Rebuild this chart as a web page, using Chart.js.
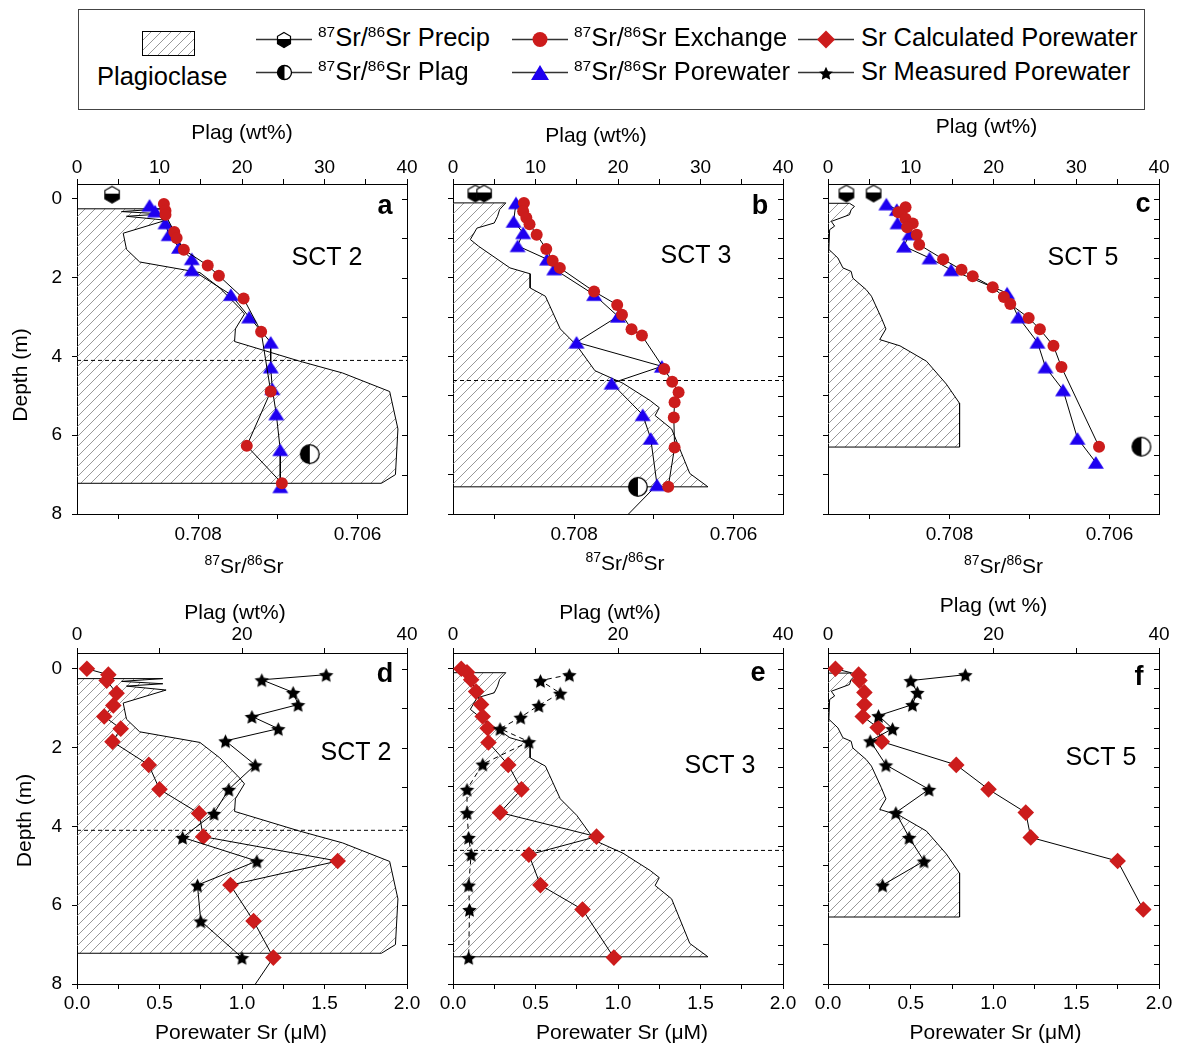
<!DOCTYPE html>
<html>
<head>
<meta charset="utf-8">
<title>Sr isotope profiles, SCT 2 / 3 / 5</title>
<script src="https://cdn.jsdelivr.net/npm/chart.js@4.4.1/dist/chart.umd.min.js"></script>
<style>
  html, body { margin: 0; padding: 0; background: #fff; }
  body { position: relative; width: 1177px; height: 1045px; overflow: hidden; font-family: "Liberation Sans", Arial, sans-serif; }
  #legendBox { position: absolute; left: 78px; top: 9px; width: 1067px; height: 101px; border: 1.5px solid #444; box-sizing: border-box; }
  .sym { position: absolute; }
  .lt { position: absolute; font-size: 25.5px; line-height: 25.5px; white-space: nowrap; color: #000; }
  .lt sup { font-size: 15.5px; vertical-align: baseline; position: relative; top: -9px; }
  canvas.panel { position: absolute; }
</style>
</head>
<body>
<div id="legendBox"></div>
<canvas class="sym" id="symPlag" width="53" height="25" style="left:142px;top:31px"></canvas>
<div class="lt" style="left:97px;top:64px">Plagioclase</div>
<canvas class="sym" id="symPrecip" width="56" height="22" style="left:256px;top:28px"></canvas>
<div class="lt" style="left:318px;top:25px"><sup>87</sup>Sr/<sup>86</sup>Sr Precip</div>
<canvas class="sym" id="symPlagSr" width="56" height="22" style="left:256px;top:61px"></canvas>
<div class="lt" style="left:318px;top:59px"><sup>87</sup>Sr/<sup>86</sup>Sr Plag</div>
<canvas class="sym" id="symExch" width="56" height="22" style="left:512px;top:28px"></canvas>
<div class="lt" style="left:574px;top:25px"><sup>87</sup>Sr/<sup>86</sup>Sr Exchange</div>
<canvas class="sym" id="symPore" width="56" height="22" style="left:512px;top:61px"></canvas>
<div class="lt" style="left:574px;top:59px"><sup>87</sup>Sr/<sup>86</sup>Sr Porewater</div>
<canvas class="sym" id="symCalc" width="56" height="22" style="left:798px;top:28px"></canvas>
<div class="lt" style="left:861px;top:25px">Sr Calculated Porewater</div>
<canvas class="sym" id="symMeas" width="56" height="22" style="left:798px;top:61px"></canvas>
<div class="lt" style="left:861px;top:59px">Sr Measured Porewater</div>

<script>
const RED = '#cc1c1c';
const BLUE = '#1e00f0';
const FONT = "'Liberation Sans', Arial, sans-serif";

// ---- ticks ----
const srTicks = [0.709, 0.708, 0.707, 0.706];
const srTickLabels = [0.708, 0.706];
const plagTicksTop = [0, 5, 10, 15, 20, 25, 30, 35, 40];
const plagLabelsTop = [0, 10, 20, 30, 40];
const plagTicksBottom = [0, 10, 20, 30, 40];
const plagLabelsBottom = [0, 20, 40];
const poreTicks = [0, 0.25, 0.5, 0.75, 1, 1.25, 1.5, 1.75, 2];
const poreLabels = [0, 0.5, 1, 1.5, 2];
const depthTicks = [0, 1, 2, 3, 4, 5, 6, 7, 8];
const depthLabels = [0, 2, 4, 6, 8];
const innerWhole = [0, 1, 2, 3, 4, 5, 6, 7, 8];
const innerHalf = [0, 0.5, 1, 1.5, 2, 2.5, 3, 3.5, 4, 4.5, 5, 5.5, 6, 6.5, 7, 7.5, 8];

// ---- plagioclase profiles (wt%, depth m) ----
const sct2PlagWt    = [0, 10.4, 5.4, 10.4, 6.0, 10.8, 5.6, 6.0, 7.6, 14.9, 17.3, 19.7, 20.3, 19.2, 19.1, 27.0, 32.2, 37.9, 38.9, 38.6, 36.9, 0];
const sct2PlagDepth = [0.25, 0.25, 0.32, 0.38, 0.44, 0.54, 0.87, 1.28, 1.6, 1.87, 2.26, 2.77, 2.92, 3.3, 3.62, 4.12, 4.42, 4.89, 5.84, 7.0, 7.22, 7.22];
const sct3PlagWt    = [0, 6.4, 5.65, 5.4, 5.0, 2.9, 2.1, 3.1, 6.9, 9.35, 9.35, 11.2, 13.0, 15.0, 17.2, 20.6, 23.9, 25.0, 24.5, 26.5, 28.7, 30.9, 0];
const sct3PlagDepth = [0.1, 0.1, 0.27, 0.44, 0.61, 0.74, 1.03, 1.2, 1.75, 1.9, 2.26, 2.47, 3.3, 3.72, 4.36, 4.68, 5.12, 5.3, 5.5, 5.84, 6.97, 7.31, 7.31];
const sct5PlagWt    = [0, 2.6, 3.2, 2.8, 2.6, 0.4, 0.8, 0.2, 0.1, 1.2, 1.8, 2.8, 3.0, 4.6, 5.25, 6.45, 7.0, 6.25, 8.7, 11.9, 14.3, 15.9, 15.9, 0];
const sct5PlagDepth = [0.11, 0.11, 0.19, 0.27, 0.4, 0.57, 0.69, 0.78, 1.28, 1.5, 1.75, 1.84, 2.01, 2.3, 2.47, 3.02, 3.3, 3.57, 3.73, 4.12, 4.7, 5.19, 6.3, 6.3];

// depth of the dashed horizon
const sct2Horizon = [4.1];
const sct3Horizon = [4.61];

// ---- 87Sr/86Sr, exchange ----
const sct2ExchDepth = [0.13, 0.3, 0.4, 0.84, 0.99, 1.29, 1.69, 1.95, 2.53, 3.37, 4.89, 6.27, 7.22];
const sct2ExchRatio = [0.70843, 0.70841, 0.70841, 0.7083, 0.70827, 0.70818, 0.70788, 0.70774, 0.70743, 0.70721, 0.70709, 0.70739, 0.70695];
const sct3ExchDepth = [0.1, 0.31, 0.48, 0.64, 0.91, 1.27, 1.57, 1.75, 2.35, 2.69, 2.94, 3.31, 3.47, 4.32, 4.64, 4.91, 5.16, 5.55, 6.31, 7.31];
const sct3ExchRatio = [0.70863, 0.70864, 0.7086, 0.70856, 0.70847, 0.70835, 0.70827, 0.70818, 0.70775, 0.70746, 0.7074, 0.70728, 0.70715, 0.70687, 0.70677, 0.70669, 0.70674, 0.70675, 0.70674, 0.70682];
const sct5ExchDepth = [0.21, 0.34, 0.5, 0.62, 0.72, 0.91, 1.16, 1.53, 1.8, 1.96, 2.24, 2.49, 2.67, 3.02, 3.31, 3.73, 4.27, 6.29];
const sct5ExchRatio = [0.70855, 0.70864, 0.70855, 0.70846, 0.70853, 0.70841, 0.70838, 0.70808, 0.70785, 0.70771, 0.70746, 0.70732, 0.70724, 0.70701, 0.70687, 0.7067, 0.7066, 0.70613];

// ---- 87Sr/86Sr, porewater ----
const sct2PoreDepth = [0.16, 0.31, 0.61, 0.91, 1.23, 1.52, 1.8, 2.43, 3.0, 3.64, 4.27, 4.82, 5.46, 6.37, 7.31];
const sct2PoreRatio = [0.70861, 0.70854, 0.70841, 0.70837, 0.70824, 0.70808, 0.70808, 0.70759, 0.70736, 0.70709, 0.70709, 0.70707, 0.70702, 0.70697, 0.70697];
const sct3PoreDepth = [0.1, 0.57, 0.86, 1.19, 1.53, 1.78, 2.43, 2.98, 3.64, 4.25, 4.68, 5.48, 6.08, 7.26, 8.5];
const sct3PoreRatio = [0.70873, 0.70876, 0.70864, 0.70871, 0.70834, 0.70825, 0.70775, 0.70745, 0.70797, 0.7069, 0.70753, 0.70714, 0.70704, 0.70696, 0.70756];
const sct5PoreDepth = [0.13, 0.27, 0.61, 0.89, 1.2, 1.5, 1.8, 2.39, 3.0, 3.64, 4.27, 4.85, 6.08, 6.69];
const sct5PoreRatio = [0.70879, 0.70866, 0.70865, 0.7085, 0.70857, 0.70825, 0.70798, 0.70728, 0.70714, 0.7069, 0.7068, 0.70658, 0.7064, 0.70617];

// ---- end members ----
const sct2PrecipRatio = [0.70908];           const sct2PrecipDepth = [-0.11];
const sct3PrecipRatio = [0.70924, 0.70913];  const sct3PrecipDepth = [-0.14, -0.14];
const sct5PrecipRatio = [0.70929, 0.70895];  const sct5PrecipDepth = [-0.14, -0.14];
const sct2PlagRatio = [0.7066];  const sct2PlagRatioDepth = [6.48];
const sct3PlagRatio = [0.7072];  const sct3PlagRatioDepth = [7.31];
const sct5PlagRatio = [0.7056];  const sct5PlagRatioDepth = [6.29];

// ---- porewater Sr (uM) ----
const sct2CalcDepth = [0.0, 0.15, 0.3, 0.62, 0.93, 1.21, 1.52, 1.85, 2.44, 3.06, 3.67, 4.26, 4.88, 5.49, 6.4, 7.33, 8.5];
const sct2CalcSr    = [0.06, 0.19, 0.18, 0.24, 0.22, 0.165, 0.265, 0.215, 0.435, 0.5, 0.74, 0.765, 1.58, 0.93, 1.07, 1.19, 1.0];
const sct2MeasDepth = [0.15, 0.28, 0.6, 0.91, 1.21, 1.52, 1.83, 2.44, 3.06, 3.67, 4.28, 4.88, 5.49, 6.4, 7.33];
const sct2MeasSr    = [1.51, 1.12, 1.31, 1.34, 1.06, 1.22, 0.9, 1.08, 0.92, 0.83, 0.64, 1.09, 0.73, 0.75, 1.0];
const sct3CalcDepth = [0.0, 0.09, 0.28, 0.58, 0.91, 1.21, 1.51, 1.87, 2.44, 3.06, 3.65, 4.26, 4.72, 5.49, 6.11, 7.33];
const sct3CalcSr    = [0.05, 0.085, 0.11, 0.14, 0.17, 0.18, 0.21, 0.215, 0.335, 0.415, 0.285, 0.87, 0.46, 0.53, 0.785, 0.975];
const sct3MeasDepth = [0.15, 0.3, 0.62, 0.93, 1.23, 1.52, 1.85, 2.42, 3.06, 3.65, 4.28, 4.71, 5.49, 6.11, 7.33];
const sct3MeasSr    = [0.705, 0.53, 0.65, 0.52, 0.41, 0.285, 0.46, 0.18, 0.085, 0.085, 0.095, 0.11, 0.095, 0.1, 0.095];
const sct5CalcDepth = [0.0, 0.15, 0.3, 0.6, 0.91, 1.21, 1.49, 1.85, 2.44, 3.06, 3.65, 4.28, 4.88, 6.11];
const sct5CalcSr    = [0.045, 0.185, 0.19, 0.22, 0.22, 0.21, 0.3, 0.325, 0.775, 0.97, 1.195, 1.225, 1.75, 1.905];
const sct5MeasDepth = [0.15, 0.3, 0.6, 0.91, 1.19, 1.52, 1.83, 2.44, 3.06, 3.65, 4.28, 4.88, 5.49];
const sct5MeasSr    = [0.83, 0.5, 0.54, 0.51, 0.305, 0.39, 0.255, 0.35, 0.61, 0.41, 0.49, 0.58, 0.33];

// ---------- marker glyphs ----------
function mk(w, h, draw) {
  const c = document.createElement('canvas');
  c.width = w; c.height = h;
  draw(c.getContext('2d'), w / 2, h / 2);
  return c;
}
function hexMarker(r) {
  const s = Math.ceil(2 * r + 3);
  return mk(s, s, (g, cx, cy) => {
    const path = () => {
      g.beginPath();
      for (let k = 0; k < 6; k++) {
        const a = -Math.PI / 2 + k * Math.PI / 3;
        const x = cx + r * Math.cos(a), y = cy + r * Math.sin(a);
        if (k) g.lineTo(x, y); else g.moveTo(x, y);
      }
      g.closePath();
    };
    path(); g.fillStyle = '#fff'; g.fill();
    g.save(); path(); g.clip(); g.fillStyle = '#000'; g.fillRect(0, cy - 1, s, s); g.restore();
    path(); g.strokeStyle = '#000'; g.lineWidth = 1.2; g.stroke();
  });
}
function halfCircle(r) {
  const s = Math.ceil(2 * r + 3);
  return mk(s, s, (g, cx, cy) => {
    g.beginPath(); g.arc(cx, cy, r, 0, Math.PI * 2); g.fillStyle = '#fff'; g.fill();
    g.beginPath(); g.arc(cx, cy, r, Math.PI / 2, Math.PI * 1.5); g.closePath(); g.fillStyle = '#000'; g.fill();
    g.beginPath(); g.arc(cx, cy, r, 0, Math.PI * 2); g.strokeStyle = '#000'; g.lineWidth = 1.3; g.stroke();
  });
}
function starMarker(R) {
  const s = Math.ceil(2 * R + 3);
  return mk(s, s, (g, cx, cy) => {
    g.beginPath();
    for (let k = 0; k < 10; k++) {
      const rr = k % 2 ? R * 0.48 : R;
      const a = -Math.PI / 2 + k * Math.PI / 5;
      const x = cx + rr * Math.cos(a), y = cy + 1 + rr * Math.sin(a);
      if (k) g.lineTo(x, y); else g.moveTo(x, y);
    }
    g.closePath(); g.fillStyle = '#000'; g.fill();
  });
}
function triMarker(w, h) {
  return mk(Math.ceil(w + 2), Math.ceil(h + 2), (g, cx, cy) => {
    g.beginPath();
    g.moveTo(cx, cy - h / 2); g.lineTo(cx + w / 2, cy + h / 2); g.lineTo(cx - w / 2, cy + h / 2);
    g.closePath(); g.fillStyle = BLUE; g.fill();
  });
}
function hatchPattern() {
  const c = document.createElement('canvas');
  c.width = 10; c.height = 10;
  const g = c.getContext('2d');
  g.strokeStyle = '#8c8c8c'; g.lineWidth = 0.9;
  g.beginPath();
  g.moveTo(0, 10); g.lineTo(10, 0);
  g.moveTo(-1, 1); g.lineTo(1, -1);
  g.moveTo(9, 11); g.lineTo(11, 9);
  g.stroke();
  return g.createPattern(c, 'repeat');
}

const precipImg = hexMarker(8.3);
const plagImg = halfCircle(9.3);
const starImg = starMarker(7.6);
const triImg = triMarker(16, 12.5);
const hatch = hatchPattern();

// ---------- legend symbols ----------
(function legend() {
  const hp = document.getElementById('symPlag').getContext('2d');
  hp.fillStyle = hatch; hp.fillRect(0, 0, 53, 25);
  hp.strokeStyle = '#000'; hp.lineWidth = 1; hp.strokeRect(0.5, 0.5, 52, 24);
  function lineSym(id, drawMarker) {
    const cv = document.getElementById(id), g = cv.getContext('2d');
    g.strokeStyle = '#333'; g.lineWidth = 1.3;
    g.beginPath(); g.moveTo(0, 11.5); g.lineTo(cv.width, 11.5); g.stroke();
    drawMarker(g, cv.width / 2, 11.5);
  }
  const img = im => (g, x, y) => g.drawImage(im, Math.round(x - im.width / 2), Math.round(y - im.height / 2));
  lineSym('symPrecip', img(hexMarker(7.5)));
  lineSym('symPlagSr', img(halfCircle(7)));
  lineSym('symExch', (g, x, y) => { g.beginPath(); g.arc(x, y, 7.5, 0, Math.PI * 2); g.fillStyle = RED; g.fill(); });
  lineSym('symPore', img(triMarker(18, 15)));
  lineSym('symCalc', (g, x, y) => {
    g.beginPath(); g.moveTo(x, y - 9); g.lineTo(x + 9, y); g.lineTo(x, y + 9); g.lineTo(x - 9, y);
    g.closePath(); g.fillStyle = RED; g.fill();
  });
  lineSym('symMeas', img(starMarker(7.2)));
})();

// ---------- plugins ----------
const innerTicks = {
  id: 'innerTicks',
  afterDraw(chart, args, o) {
    const { ctx, chartArea: a } = chart;
    const y = chart.scales.y;
    ctx.save();
    ctx.strokeStyle = '#000'; ctx.lineWidth = 1;
    ctx.beginPath();
    o.values.forEach(v => {
      const py = Math.round(y.getPixelForValue(v)) + 0.5;
      ctx.moveTo(a.right, py); ctx.lineTo(a.right - 5, py);
    });
    ctx.stroke();
    ctx.restore();
  }
};

function drawSrTitle(ctx, cx, baseY) {
  const big = '21px ' + FONT, small = '14px ' + FONT;
  const parts = [['87', small, -8], ['Sr/', big, 0], ['86', small, -8], ['Sr', big, 0]];
  let total = 0;
  parts.forEach(p => { ctx.font = p[1]; total += ctx.measureText(p[0]).width; });
  let x = cx - total / 2;
  ctx.textAlign = 'left'; ctx.textBaseline = 'alphabetic';
  parts.forEach(p => { ctx.font = p[1]; ctx.fillText(p[0], x, baseY + p[2]); x += ctx.measureText(p[0]).width; });
}

const panelText = {
  id: 'panelText',
  afterDraw(chart, args, o) {
    const { ctx, chartArea: a } = chart;
    const cx = (a.left + a.right) / 2, cy = (a.top + a.bottom) / 2;
    ctx.save();
    ctx.fillStyle = '#000';
    ctx.textAlign = 'center'; ctx.textBaseline = 'alphabetic';
    ctx.font = 'bold 27px ' + FONT;
    ctx.fillText(o.letter[0], a.right - o.letter[1], a.top + o.letter[2]);
    ctx.font = '25px ' + FONT;
    ctx.fillText(o.core[0], a.left + o.core[1], a.top + o.core[2]);
    ctx.textBaseline = 'middle';
    ctx.font = '21px ' + FONT;
    ctx.fillText(o.plag[0], cx + o.plag[1], a.top - o.plag[2]);
    if (o.bottom[0] === 'sr') {
      drawSrTitle(ctx, cx + o.bottom[1], a.bottom + o.bottom[2]);
    } else {
      ctx.textAlign = 'center'; ctx.textBaseline = 'middle'; ctx.font = '21px ' + FONT;
      ctx.fillText(o.bottom[0], cx + o.bottom[1], a.bottom + o.bottom[2]);
    }
    if (o.depth) {
      ctx.translate(a.left - o.depth[0], cy + o.depth[1]);
      ctx.rotate(-Math.PI / 2);
      ctx.textAlign = 'center'; ctx.textBaseline = 'middle'; ctx.font = '21px ' + FONT;
      ctx.fillText('Depth (m)', 0, 0);
    }
    ctx.restore();
  }
};

// ---------- helpers ----------
function pts(xs, ys) { return xs.map((x, i) => ({ x: x, y: ys[i] })); }
const has = (list, v) => list.some(t => Math.abs(t - v) < 1e-9);

function axis(pos, min, max, reverse, tickVals, tickLabs, fmt, pad, size) {
  const horiz = pos === 'top' || pos === 'bottom';
  return {
    type: 'linear', position: pos, min: min, max: max, reverse: reverse,
    afterBuildTicks: s => { s.ticks = tickVals.map(v => ({ value: v })); },
    afterFit: s => { if (horiz) s.height = size; else s.width = size; },
    ticks: {
      autoSkip: false, maxRotation: 0, minRotation: 0, padding: pad, color: '#000',
      font: { family: FONT, size: 19 },
      callback: v => has(tickLabs, v) ? fmt(v) : ''
    },
    grid: { display: true, drawOnChartArea: false, drawTicks: true, tickLength: 5, color: '#000', lineWidth: 1 },
    border: { display: true, color: '#000', width: 1 },
    title: { display: false }
  };
}

function lineSet(data, extra) {
  return Object.assign({
    data: data, xAxisID: 'x', yAxisID: 'y', showLine: true,
    borderColor: '#000', borderWidth: 1, tension: 0
  }, extra);
}

function profileSets(p) {
  const out = [];
  if (p.horizon) {
    out.push(lineSet(pts([0, 40], [p.horizon[0], p.horizon[0]]), {
      xAxisID: 'x2', borderDash: [4, 3], pointRadius: 0
    }));
  }
  out.push(lineSet(pts(p.plagWt, p.plagDepth), {
    xAxisID: 'x2', pointRadius: 0, fill: 'shape', backgroundColor: hatch
  }));
  return out;
}

function buildPanel(p) {
  const TOPH = 80, BOTH = 75, RIGHTW = 25;
  const w = p.leftW + (p.R - p.L) + RIGHTW;
  const h = TOPH + (p.B - p.T) + BOTH;
  const c = document.createElement('canvas');
  c.className = 'panel';
  c.width = w; c.height = h;
  c.style.left = (p.L - p.leftW) + 'px';
  c.style.top = (p.T - TOPH) + 'px';
  c.style.width = w + 'px'; c.style.height = h + 'px';
  document.body.appendChild(c);

  let datasets, xAxis, x2Axis;
  if (p.kind === 'ratio') {
    datasets = [
      lineSet(pts(p.precipRatio, p.precipDepth), { showLine: false, pointStyle: precipImg, pointRadius: 8 }),
      lineSet(pts(p.plagRatio, p.plagRatioDepth), { showLine: false, pointStyle: plagImg, pointRadius: 9 }),
      lineSet(pts(p.exchRatio, p.exchDepth), {
        pointStyle: 'circle', pointRadius: 6, pointBackgroundColor: RED, pointBorderColor: RED, pointBorderWidth: 0
      }),
      lineSet(pts(p.poreRatio, p.poreDepth), { pointStyle: triImg, pointRadius: 7 })
    ].concat(profileSets(p));
    xAxis = axis('bottom', 0.70538, 0.70952, true, srTicks, srTickLabels, v => v.toFixed(3), 4, BOTH);
    x2Axis = axis('top', 0, 40, false, plagTicksTop, plagLabelsTop, v => String(v), 0, TOPH);
  } else {
    datasets = [
      lineSet(pts(p.measSr, p.measDepth), { pointStyle: starImg, pointRadius: 6, borderDash: p.measDash || [] }),
      lineSet(pts(p.calcSr, p.calcDepth), {
        pointStyle: 'rectRot', pointRadius: 8.3, pointBackgroundColor: RED, pointBorderColor: RED, pointBorderWidth: 0
      })
    ].concat(profileSets(p));
    xAxis = axis('bottom', 0, 2, false, poreTicks, poreLabels, v => v.toFixed(1), 3, BOTH);
    x2Axis = axis('top', 0, 40, false, plagTicksBottom, plagLabelsBottom, v => String(v), 2, TOPH);
  }
  const yAxis = p.leftLabels
    ? axis('left', p.yMin, 8, true, depthLabels, depthLabels, v => String(v), 10, p.leftW)
    : axis('left', p.yMin, 8, true, depthTicks, [], v => '', 3, p.leftW);

  return new Chart(c, {
    type: 'scatter',
    data: { datasets: datasets },
    options: {
      responsive: false,
      animation: false,
      events: [],
      layout: { padding: 0 },
      scales: {
        x: xAxis,
        x2: x2Axis,
        y: yAxis,
        yR: {
          type: 'linear', position: 'right', display: true,
          ticks: { display: false }, grid: { display: false },
          border: { display: true, color: '#000', width: 1 },
          afterFit: s => { s.width = RIGHTW; }
        }
      },
      plugins: {
        legend: { display: false },
        tooltip: { enabled: false },
        innerTicks: { values: p.inner },
        panelText: p.text
      }
    },
    plugins: [innerTicks, panelText]
  });
}

// ---------- panels ----------
buildPanel({
  kind: 'ratio', L: 77, T: 184, R: 407, B: 514, leftW: 77, leftLabels: true, yMin: -0.38, inner: innerWhole,
  plagWt: sct2PlagWt, plagDepth: sct2PlagDepth, horizon: sct2Horizon,
  exchRatio: sct2ExchRatio, exchDepth: sct2ExchDepth, poreRatio: sct2PoreRatio, poreDepth: sct2PoreDepth,
  precipRatio: sct2PrecipRatio, precipDepth: sct2PrecipDepth, plagRatio: sct2PlagRatio, plagRatioDepth: sct2PlagRatioDepth,
  text: { letter: ['a', 22, 30], core: ['SCT 2', 250, 81], plag: ['Plag (wt%)', 0, 51], bottom: ['sr', 2, 59], depth: [56, 26] }
});
buildPanel({
  kind: 'ratio', L: 453, T: 184, R: 783, B: 514, leftW: 30, leftLabels: false, yMin: -0.38, inner: innerHalf,
  plagWt: sct3PlagWt, plagDepth: sct3PlagDepth, horizon: sct3Horizon,
  exchRatio: sct3ExchRatio, exchDepth: sct3ExchDepth, poreRatio: sct3PoreRatio, poreDepth: sct3PoreDepth,
  precipRatio: sct3PrecipRatio, precipDepth: sct3PrecipDepth, plagRatio: sct3PlagRatio, plagRatioDepth: sct3PlagRatioDepth,
  text: { letter: ['b', 23, 30], core: ['SCT 3', 243, 79], plag: ['Plag (wt%)', -22, 48], bottom: ['sr', 7, 56] }
});
buildPanel({
  kind: 'ratio', L: 828, T: 184, R: 1159, B: 514, leftW: 30, leftLabels: false, yMin: -0.38, inner: innerHalf,
  plagWt: sct5PlagWt, plagDepth: sct5PlagDepth,
  exchRatio: sct5ExchRatio, exchDepth: sct5ExchDepth, poreRatio: sct5PoreRatio, poreDepth: sct5PoreDepth,
  precipRatio: sct5PrecipRatio, precipDepth: sct5PrecipDepth, plagRatio: sct5PlagRatio, plagRatioDepth: sct5PlagRatioDepth,
  text: { letter: ['c', 16, 28], core: ['SCT 5', 255, 81], plag: ['Plag (wt%)', -7, 57], bottom: ['sr', 10, 59] }
});
buildPanel({
  kind: 'pore', L: 77, T: 653, R: 407, B: 984, leftW: 77, leftLabels: true, yMin: -0.4, inner: innerWhole,
  plagWt: sct2PlagWt, plagDepth: sct2PlagDepth, horizon: sct2Horizon,
  calcSr: sct2CalcSr, calcDepth: sct2CalcDepth, measSr: sct2MeasSr, measDepth: sct2MeasDepth,
  text: { letter: ['d', 22, 29], core: ['SCT 2', 279, 107], plag: ['Plag (wt%)', -7, 40], bottom: ['Porewater Sr (\u03bcM)', -1, 49], depth: [52, 2] }
});
buildPanel({
  kind: 'pore', L: 453, T: 653, R: 783, B: 984, leftW: 30, leftLabels: false, yMin: -0.4, inner: innerHalf,
  plagWt: sct3PlagWt, plagDepth: sct3PlagDepth, horizon: sct3Horizon,
  calcSr: sct3CalcSr, calcDepth: sct3CalcDepth, measSr: sct3MeasSr, measDepth: sct3MeasDepth, measDash: [5, 4],
  text: { letter: ['e', 25, 28], core: ['SCT 3', 267, 120], plag: ['Plag (wt%)', -8, 40], bottom: ['Porewater Sr (\u03bcM)', 4, 49] }
});
buildPanel({
  kind: 'pore', L: 828, T: 653, R: 1159, B: 984, leftW: 30, leftLabels: false, yMin: -0.4, inner: innerHalf,
  plagWt: sct5PlagWt, plagDepth: sct5PlagDepth,
  calcSr: sct5CalcSr, calcDepth: sct5CalcDepth, measSr: sct5MeasSr, measDepth: sct5MeasDepth,
  text: { letter: ['f', 20, 32], core: ['SCT 5', 273, 112], plag: ['Plag (wt %)', 0, 47], bottom: ['Porewater Sr (\u03bcM)', 2, 49] }
});
</script>
</body>
</html>
